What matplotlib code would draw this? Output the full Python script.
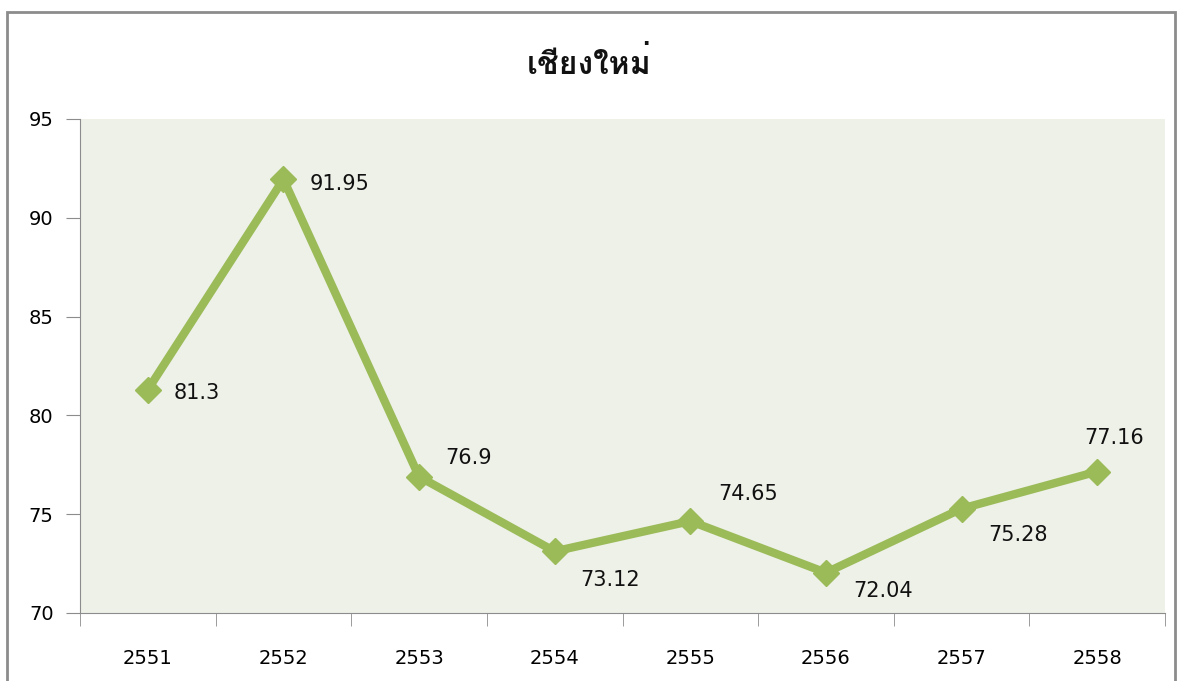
import matplotlib.pyplot as plt
from matplotlib import font_manager
from matplotlib.ft2font import FT2Font
from matplotlib.patches import Rectangle

# data
years = ['2551', '2552', '2553', '2554', '2555', '2556', '2557', '2558']
values = [81.3, 91.95, 76.9, 73.12, 74.65, 72.04, 75.28, 77.16]
value_labels = ['81.3', '91.95', '76.9', '73.12', '74.65', '72.04', '75.28', '77.16']
title = 'เชียงใหม่'

# label offsets in pixels (dx, dy, ha)
offsets = [(26, -3, 'left'), (26, -5, 'left'), (26, 19, 'left'), (26, -29, 'left'),
           (28, 27, 'left'), (27, -18, 'left'), (27, -26, 'left'), (17, 34, 'center')]


def thai_families():
    # find installed families that actually have Thai glyphs
    found = []
    for f in font_manager.fontManager.ttflist:
        try:
            if 0x0E40 in FT2Font(f.fname).get_charmap() and f.name not in found:
                found.append(f.name)
        except Exception:
            pass
    return found


plt.rcParams['font.family'] = ['DejaVu Sans', 'Noto Sans', 'Noto Sans CJK SC']

fig = plt.figure(figsize=(11.78, 6.81), dpi=100)
fig.patches.append(Rectangle((7 / 1178, -0.01), 1168 / 1178, (681 - 12) / 681 + 0.01,
                             transform=fig.transFigure, fill=False,
                             edgecolor='#8c8c8c', linewidth=2))

ax = fig.add_axes([80 / 1178, 68 / 681, 1085 / 1178, 494 / 681])
ax.set_facecolor('#eef1e8')

x = list(range(len(years)))
ax.plot(x, values, color='#9bbb59', linewidth=6, marker='D', markersize=13,
        solid_joinstyle='round', zorder=3)

for xi, v, lab, (dx, dy, ha) in zip(x, values, value_labels, offsets):
    ax.annotate(lab, (xi, v), xytext=(dx, dy), textcoords='offset pixels',
                ha=ha, va='center', fontsize=15, color='#111111')

ax.set_xlim(-0.5, len(years) - 0.5)
ax.set_ylim(70, 95)
ax.set_yticks([70, 75, 80, 85, 90, 95])
ax.set_xticks(x)
ax.set_xticklabels(years)
ax.set_xticks([i - 0.5 for i in range(len(years) + 1)], minor=True)
ax.tick_params(axis='x', which='major', length=0, pad=26, labelsize=14)
ax.tick_params(axis='x', which='minor', length=9, color='#8c8c8c', direction='out')
ax.tick_params(axis='y', length=10, color='#8c8c8c', labelsize=14, pad=9)

for s in ['top', 'right']:
    ax.spines[s].set_visible(False)
for s in ['left', 'bottom']:
    ax.spines[s].set_color('#8c8c8c')

title_fonts = thai_families() + ['DejaVu Sans']
fig.text(0.5, 1 - 64 / 681, title, ha='center', va='center', fontsize=23,
         fontweight='bold', color='#111111', family=title_fonts)

fig.savefig('out.png', dpi=100)
